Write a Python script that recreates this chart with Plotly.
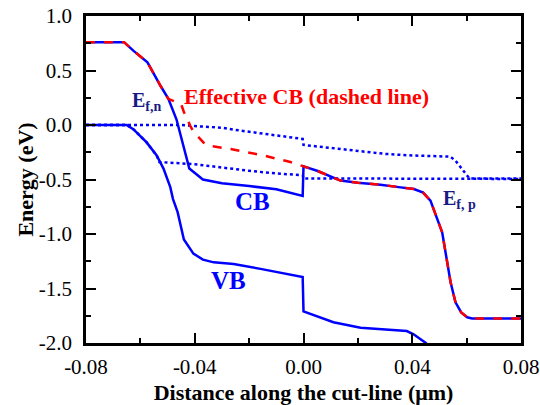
import plotly.graph_objects as go

# Conduction band (solid blue)
x_cb = [-0.08, -0.066, -0.0625, -0.0574, -0.0526, -0.0497, -0.0467, -0.044, -0.042, -0.037, -0.030,
        -0.020, -0.010, -0.0003, 0.0, 0.005, 0.0136, 0.020, 0.0283, 0.035, 0.0406, 0.044, 0.0467,
        0.051, 0.0541, 0.0559, 0.058, 0.0602, 0.062, 0.08]
y_cb = [0.76, 0.76, 0.68, 0.575, 0.36, 0.24, 0.05, -0.22, -0.40, -0.50, -0.535,
        -0.56, -0.59, -0.65, -0.38, -0.42, -0.51, -0.53, -0.548, -0.57, -0.587, -0.62, -0.694,
        -0.984, -1.443, -1.627, -1.72, -1.764, -1.775, -1.775]

# Valence band (solid blue)
x_vb = [-0.08, -0.065, -0.0625, -0.0577, -0.054, -0.0515, -0.049, -0.048, -0.0463, -0.044, -0.0405,
        -0.037, -0.033, -0.0257, -0.0158, -0.0003, 0.0, 0.011, 0.021, 0.038, 0.0405, 0.045, 0.047]
y_vb = [0.0, 0.0, -0.04, -0.16, -0.28, -0.40, -0.57, -0.68, -0.80, -1.05, -1.18,
        -1.235, -1.26, -1.275, -1.32, -1.395, -1.71, -1.81, -1.86, -1.89, -1.92, -2.0, -2.05]

# Effective conduction band (red dashed)
x_eff = [-0.08, -0.066, -0.0625, -0.0574, -0.0526, -0.0497, -0.045, -0.044, -0.0416, -0.0405,
         -0.0368, -0.035, -0.0268, -0.0147, -0.0048, 0.0, 0.005, 0.0136, 0.020, 0.0283, 0.035,
         0.0406, 0.044, 0.0467, 0.051, 0.0541, 0.0559, 0.058, 0.0602, 0.062, 0.08]
y_eff = [0.76, 0.76, 0.68, 0.575, 0.36, 0.24, 0.19, 0.12, -0.01, -0.06,
         -0.16, -0.19, -0.22, -0.28, -0.34, -0.38, -0.42, -0.51, -0.53, -0.548, -0.57,
         -0.587, -0.62, -0.694, -0.984, -1.443, -1.627, -1.72, -1.764, -1.775, -1.775]

# Electron quasi-Fermi level (dotted)
x_efn = [-0.08, -0.045, -0.040, -0.030, -0.025, -0.015, -0.007, -0.0003, 0.0, 0.010, 0.020,
         0.030, 0.040, 0.054, 0.056, 0.0602, 0.061, 0.08]
y_efn = [0.0, 0.0, -0.01, -0.025, -0.045, -0.08, -0.105, -0.128, -0.183, -0.21, -0.24,
         -0.265, -0.28, -0.29, -0.33, -0.465, -0.49, -0.49]

# Hole quasi-Fermi level (dotted)
x_efp = [-0.08, -0.065, -0.0625, -0.0577, -0.054, -0.053, -0.040, -0.031, -0.020, -0.010,
         -0.0003, 0.0, 0.08]
y_efp = [0.0, 0.0, -0.04, -0.16, -0.28, -0.34, -0.36, -0.39, -0.42, -0.445,
         -0.46, -0.49, -0.495]

x_tickvals = [-0.08, -0.04, 0.0, 0.04, 0.08]
x_ticktext = ["-0.08", "-0.04", "0.00", "0.04", "0.08"]
y_tickvals = [1.0, 0.5, 0.0, -0.5, -1.0, -1.5, -2.0]
y_ticktext = ["1.0", "0.5", "0.0", "-0.5", "-1.0", "-1.5", "-2.0"]

BLUE = "#0000ff"
RED = "#ff0000"
NAVY = "#1a1a85"
FONT = "Liberation Serif, Times New Roman, serif"

fig = go.Figure()
fig.add_trace(go.Scatter(x=x_cb, y=y_cb, mode="lines", line=dict(color=BLUE, width=2.5)))
fig.add_trace(go.Scatter(x=x_vb, y=y_vb, mode="lines", line=dict(color=BLUE, width=2.5)))
fig.add_trace(go.Scatter(x=x_efn, y=y_efn, mode="lines", line=dict(color=BLUE, width=2.5, dash="dot")))
fig.add_trace(go.Scatter(x=x_efp, y=y_efp, mode="lines", line=dict(color=BLUE, width=2.5, dash="dot")))
fig.add_trace(go.Scatter(x=x_eff, y=y_eff, mode="lines", line=dict(color=RED, width=2.5, dash="dash")))

annots = [
    dict(x=-0.0575, y=0.22, text="<b>E<sub>f,n</sub></b>", color=NAVY, size=20),
    dict(x=0.0011, y=0.266, text="<b>Effective CB (dashed line)</b>", color=RED, size=22),
    dict(x=-0.0188, y=-0.706, text="<b>CB</b>", color=BLUE, size=25),
    dict(x=-0.0277, y=-1.43, text="<b>VB</b>", color=BLUE, size=25),
    dict(x=0.0573, y=-0.68, text="<b>E<sub>f, p</sub></b>", color=NAVY, size=20),
]
for a in annots:
    fig.add_annotation(x=a["x"], y=a["y"], text=a["text"], showarrow=False,
                       font=dict(family=FONT, size=a["size"], color=a["color"]),
                       xanchor="center", yanchor="middle")

axis_common = dict(showline=True, linecolor="black", linewidth=2.5, mirror="ticks",
                   ticks="inside", ticklen=10, tickwidth=2, tickcolor="black",
                   showgrid=False, zeroline=False, automargin=False,
                   tickfont=dict(family=FONT, size=21, color="black"))

fig.update_xaxes(range=[-0.08, 0.08], tickvals=x_tickvals, ticktext=x_ticktext,
                 ticklabelstandoff=3,
                 minor=dict(dtick=0.02, tick0=0, ticks="inside", ticklen=5, tickwidth=2, tickcolor="black"),
                 title=dict(text="<b>Distance along the cut-line (μm)</b>",
                            font=dict(family=FONT, size=22, color="black"), standoff=7),
                 **axis_common)
fig.update_yaxes(range=[-2.0, 1.0], tickvals=y_tickvals, ticktext=y_ticktext,
                 ticklabelstandoff=7,
                 minor=dict(dtick=0.25, tick0=0, ticks="inside", ticklen=5, tickwidth=2, tickcolor="black"),
                 title=dict(text="<b>Energy (eV)</b>",
                            font=dict(family=FONT, size=22, color="black"), standoff=0),
                 **axis_common)

fig.update_layout(width=540, height=405, margin=dict(l=86, r=19, t=16, b=62),
                  font=dict(family=FONT),
                  paper_bgcolor="white", plot_bgcolor="white", showlegend=False)

fig.write_html("out.html", config={"displayModeBar": False},
               post_script="document.body.style.margin='0';document.body.style.overflow='hidden';")
